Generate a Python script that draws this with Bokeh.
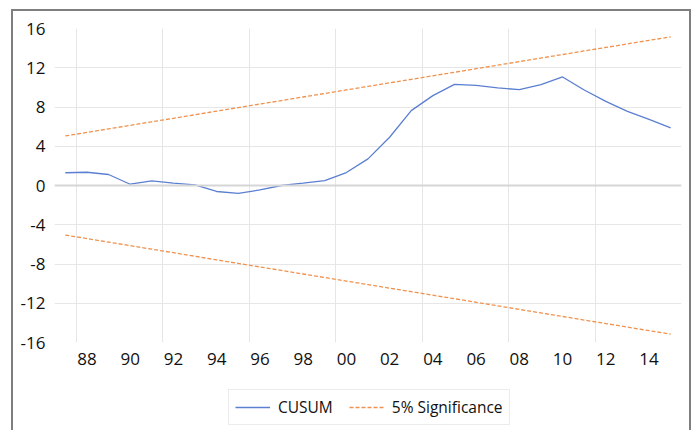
from bokeh.plotting import figure
from bokeh.layouts import column
from bokeh.models import (Range1d, FixedTicker, Span, Legend, LegendItem)
from bokeh.embed import file_html
from bokeh.resources import INLINE

# ---- data ----
years = [1987, 1988, 1989, 1990, 1991, 1992, 1993, 1994, 1995, 1996,
         1997, 1998, 1999, 2000, 2001, 2002, 2003, 2004, 2005, 2006,
         2007, 2008, 2009, 2010, 2011, 2012, 2013, 2014, 2015]
cusum = [1.30, 1.35, 1.12, 0.13, 0.48, 0.24, 0.07, -0.61, -0.81, -0.45,
         0.00, 0.24, 0.50, 1.32, 2.71, 4.92, 7.63, 9.16, 10.30, 10.20,
         9.94, 9.77, 10.27, 11.06, 9.73, 8.57, 7.56, 6.74, 5.87]
upper = [5.05, 5.41, 5.77, 6.13, 6.49, 6.85, 7.21, 7.58, 7.94, 8.30,
         8.66, 9.02, 9.38, 9.74, 10.10, 10.46, 10.82, 11.18, 11.54, 11.90,
         12.26, 12.63, 12.99, 13.35, 13.71, 14.07, 14.43, 14.79, 15.15]
lower = [-5.05, -5.41, -5.77, -6.13, -6.49, -6.85, -7.21, -7.58, -7.94, -8.30,
         -8.66, -9.02, -9.38, -9.74, -10.10, -10.46, -10.82, -11.18, -11.54, -11.90,
         -12.26, -12.63, -12.99, -13.35, -13.71, -14.07, -14.43, -14.79, -15.15]
tick_years = [1988, 1990, 1992, 1994, 1996, 1998, 2000, 2002, 2004, 2006,
              2008, 2010, 2012, 2014]
tick_labels = ["88", "90", "92", "94", "96", "98", "00", "02", "04", "06",
               "08", "10", "12", "14"]
y_ticks = [-16, -12, -8, -4, 0, 4, 8, 12, 16]
y_tick_labels = ["-16", "-12", "-8", "-4", "0", "4", "8", "12", "16"]
series_names = ["CUSUM", "5% Significance"]

FONT = "Open Sans"
BLUE = "#5b7fd1"
ORANGE = "#f0924f"

p = figure(width=676, height=361, output_backend="svg", toolbar_location=None,
           x_range=Range1d(years[0] - 0.5, years[-1] + 0.5),
           y_range=Range1d(-16, 16),
           min_border_left=41, min_border_right=8,
           min_border_top=17, min_border_bottom=30)
p.background_fill_color = "white"
p.border_fill_color = "white"
p.outline_line_color = None

# axes
p.xaxis.ticker = FixedTicker(ticks=tick_years)
p.xaxis.major_label_overrides = {y: l for y, l in zip(tick_years, tick_labels)}
p.yaxis.ticker = FixedTicker(ticks=y_ticks)
p.yaxis.major_label_overrides = {v: l for v, l in zip(y_ticks, y_tick_labels)}
for ax in (p.xaxis[0], p.yaxis[0]):
    ax.axis_line_color = None
    ax.major_tick_line_color = None
    ax.minor_tick_line_color = None
    ax.major_label_text_font = FONT
    ax.major_label_text_font_size = "17px"
    ax.major_label_text_color = "#111111"
p.xaxis.major_label_standoff = 4
p.yaxis.major_label_standoff = 3

# grids
p.xgrid.ticker = FixedTicker(ticks=[y + 0.5 for y in years[::4]])
p.xgrid.grid_line_color = "#e6e6e6"
p.ygrid.ticker = FixedTicker(ticks=[t for t in y_ticks if t not in (0, 16, -16)])
p.ygrid.grid_line_color = "#e6e6e6"
p.add_layout(Span(location=0, dimension="width", line_color="#d6d6d6", line_width=2))

# lines
p.line(years, cusum, line_color=BLUE, line_width=1.3)
p.line(years, upper, line_color=ORANGE, line_width=1.3, line_dash="4 2")
p.line(years, lower, line_color=ORANGE, line_width=1.3, line_dash="4 2")

# legend strip below the chart (its lines lie outside this strip's ranges)
p2 = figure(width=676, height=58, output_backend="svg", toolbar_location=None,
            x_range=Range1d(0, 1), y_range=Range1d(0, 1),
            x_axis_location=None, y_axis_location=None,
            min_border_left=41, min_border_right=8,
            min_border_top=0, min_border_bottom=0)
p2.grid.visible = False
p2.outline_line_color = None
p2.background_fill_color = "white"
p2.border_fill_color = "white"
d_c = p2.line(years, cusum, line_color=BLUE, line_width=1.3)
d_s = p2.line(years, upper, line_color=ORANGE, line_width=1.3, line_dash="4 2")

legend = Legend(items=[LegendItem(label=series_names[0], renderers=[d_c]),
                       LegendItem(label=series_names[1], renderers=[d_s])],
                orientation="horizontal", location=(174, 5))
legend.label_text_font = FONT
legend.label_text_font_size = "15.5px"
legend.label_text_color = "#111111"
legend.glyph_width = 35
legend.glyph_height = 18
legend.label_height = 18
legend.label_standoff = 8
legend.spacing = 16
legend.padding = 6
legend.margin = 0
legend.border_line_color = "#d9d9d9"
legend.border_line_width = 1
p2.add_layout(legend)

# outer chart border
layout = column(p, p2, spacing=0,
                styles={"border-top": "2px solid #7f7f7f",
                        "border-left": "2px solid #7f7f7f",
                        "border-right": "2px solid #7f7f7f",
                        "transform": "translate(7px, 8px)"})
layout.margin = (1, 0, 0, 4)

open("out.html", "w").write(file_html(layout, INLINE))
